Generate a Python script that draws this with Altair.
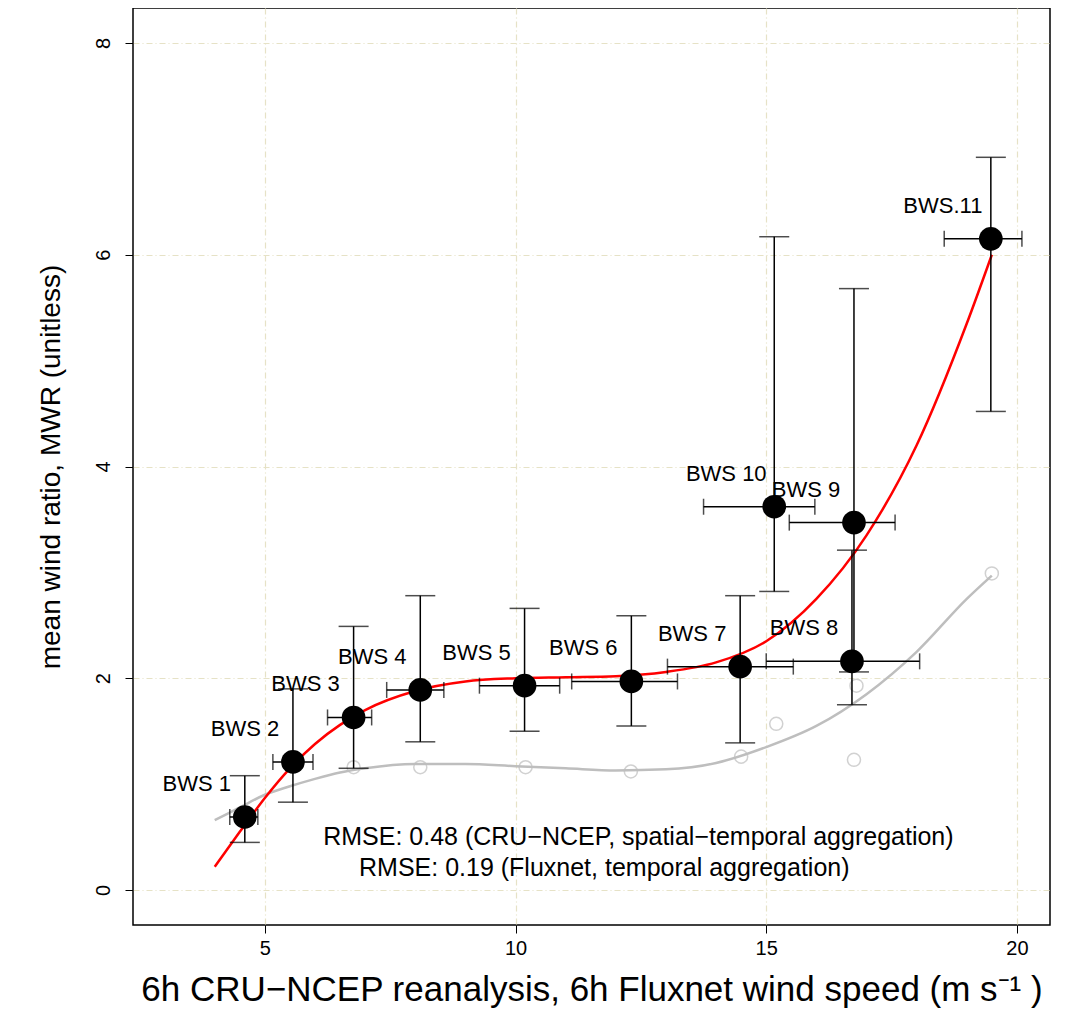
import altair as alt
import pandas as pd

labels = ["BWS 1", "BWS 2", "BWS 3", "BWS 4", "BWS 5", "BWS 6", "BWS 7", "BWS 8", "BWS 9", "BWS 10", "BWS.11"]
cru_x = [4.6, 5.56, 6.77, 8.1, 10.18, 12.31, 14.48, 16.71, 16.75, 15.16, 19.48]
mwr = [0.69, 1.21, 1.63, 1.89, 1.93, 1.97, 2.11, 2.16, 3.47, 3.62, 6.15]
mwr_lo = [0.45, 0.83, 1.15, 1.40, 1.50, 1.55, 1.39, 1.75, 2.06, 2.82, 4.52]
mwr_hi = [1.08, 1.90, 2.49, 2.78, 2.66, 2.59, 2.78, 3.21, 5.68, 6.17, 6.92]
x_lo = [4.3, 5.16, 6.25, 7.43, 9.28, 11.12, 13.03, 15.0, 15.46, 13.75, 18.55]
x_hi = [4.86, 5.96, 7.13, 8.57, 10.88, 13.23, 15.54, 18.06, 17.57, 15.97, 20.1]

flux_x = [4.6, 5.56, 6.77, 8.1, 10.2, 12.3, 14.5, 15.2, 16.75, 16.8, 19.5]
flux_y = [0.7, 1.2, 1.16, 1.16, 1.16, 1.12, 1.26, 1.57, 1.23, 1.93, 2.99]

fit_x = [4, 4.5, 5, 5.5, 6, 6.5, 7, 8, 9, 10, 11, 12, 13, 14, 15, 16, 17, 18, 19, 19.5]
red_y = [0.22, 0.55, 0.87, 1.15, 1.38, 1.56, 1.70, 1.88, 1.97, 2.0, 2.01, 2.02, 2.06, 2.15, 2.35, 2.75, 3.35, 4.2, 5.35, 6.0]
grey_y = [0.66, 0.78, 0.9, 0.98, 1.05, 1.11, 1.15, 1.19, 1.19, 1.17, 1.15, 1.13, 1.14, 1.2, 1.35, 1.55, 1.85, 2.25, 2.75, 2.97]

rmse_lines = ["RMSE: 0.48 (CRU−NCEP, spatial−temporal aggregation)", "RMSE: 0.19 (Fluxnet, temporal aggregation)"]
rmse_x = [12.45, 11.77]
rmse_y = [0.5, 0.21]

pts = pd.DataFrame({"label": labels, "x": cru_x, "y": mwr, "ylo": mwr_lo, "yhi": mwr_hi, "xlo": x_lo, "xhi": x_hi})
flux = pd.DataFrame({"x": flux_x, "y": flux_y})
fit = pd.DataFrame({"x": fit_x, "red": red_y, "grey": grey_y})
notes = pd.DataFrame({"t": rmse_lines, "x": rmse_x, "y": rmse_y})

FONT = "Liberation Sans"
xs = alt.Scale(domain=[2.37, 20.66], nice=False, zero=False)
ys = alt.Scale(domain=[-0.33, 8.33], nice=False, zero=False)
x_title = "6h CRU−NCEP reanalysis, 6h Fluxnet wind speed (m s⁻¹ )"
y_title = "mean wind ratio, MWR (unitless)"
x_axis = alt.Axis(values=[5, 10, 15, 20], format="d", domain=False, tickColor="black", tickSize=8,
                  labelFontSize=20, labelPadding=5, titleFontSize=35, titleFont=FONT,
                  titlePadding=14, gridColor="#e6e2c6", gridDash=[6, 3, 1, 3], gridWidth=1.2)
y_axis = alt.Axis(values=[0, 2, 4, 6, 8], format="d", domain=False, tickColor="black", tickSize=8,
                  labelFontSize=20, labelAngle=-90, labelAlign="center", labelBaseline="bottom",
                  labelPadding=12, titleFontSize=28, titleFont=FONT, titlePadding=28,
                  gridColor="#e6e2c6", gridDash=[6, 3, 1, 3], gridWidth=1.2)
X = lambda f: alt.X(f, scale=xs, axis=x_axis, title=x_title)
Y = lambda f: alt.Y(f, scale=ys, axis=y_axis, title=y_title)

grey_line = alt.Chart(fit).mark_line(color="#bebebe", strokeWidth=2.5, interpolate="monotone").encode(x=X("x:Q"), y=Y("grey:Q"))
red_line = alt.Chart(fit).mark_line(color="#ff0000", strokeWidth=2.5, interpolate="monotone").encode(x=X("x:Q"), y=Y("red:Q"))
grey_pts = alt.Chart(flux).mark_point(color="#bebebe", size=170, strokeWidth=1.5).encode(x=X("x:Q"), y=Y("y:Q"))

pb = alt.Chart(pts)
vbar = pb.mark_rule(color="black", strokeWidth=1.5).encode(x=X("x:Q"), y=Y("ylo:Q"), y2="yhi:Q")
hbar = pb.mark_rule(color="black", strokeWidth=1.5).encode(x=X("xlo:Q"), x2="xhi:Q", y=Y("y:Q"))
cap_lo = pb.mark_tick(color="black", orient="horizontal", size=30, thickness=1.5).encode(x=X("x:Q"), y=Y("ylo:Q"))
cap_hi = pb.mark_tick(color="black", orient="horizontal", size=30, thickness=1.5).encode(x=X("x:Q"), y=Y("yhi:Q"))
cap_l = pb.mark_tick(color="black", orient="vertical", size=16, thickness=1.5).encode(x=X("xlo:Q"), y=Y("y:Q"))
cap_r = pb.mark_tick(color="black", orient="vertical", size=16, thickness=1.5).encode(x=X("xhi:Q"), y=Y("y:Q"))
dots = pb.mark_circle(color="black", size=560, opacity=1).encode(x=X("x:Q"), y=Y("y:Q"))
lbl = pb.mark_text(font=FONT, fontSize=22, dx=-48, dy=-33, color="black").encode(x=X("x:Q"), y=Y("y:Q"), text="label:N")
rmse = alt.Chart(notes).mark_text(font=FONT, fontSize=25, color="black").encode(x=X("x:Q"), y=Y("y:Q"), text="t:N")

chart = alt.layer(grey_line, grey_pts, red_line, vbar, hbar, cap_lo, cap_hi, cap_l, cap_r, dots, lbl, rmse).properties(
    width=917, height=917, autosize="none",
    padding={"left": 125, "top": 0, "right": 25, "bottom": 100},
).configure_view(stroke="black", strokeWidth=1.5).configure_axis(labelFont=FONT, labelColor="black", titleColor="black", titleFontWeight="normal")

chart.save("out.html", embed_options={"renderer": "svg", "actions": False})
